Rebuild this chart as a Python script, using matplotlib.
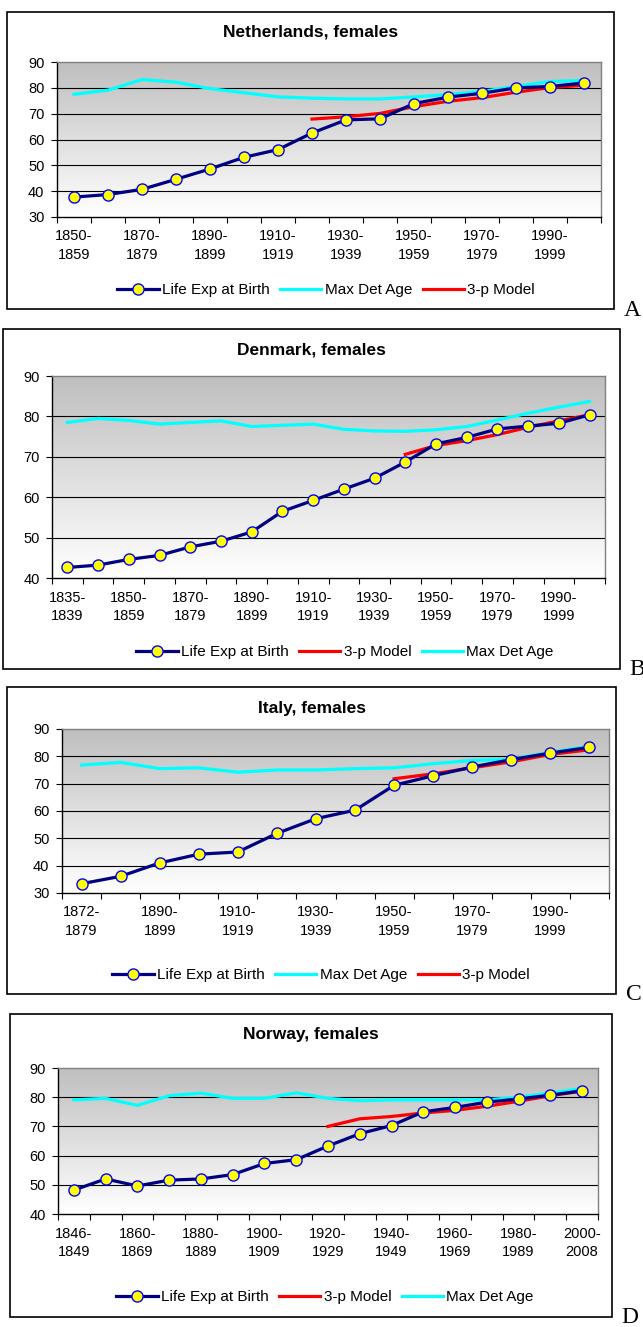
import numpy as np
import matplotlib.pyplot as plt
from matplotlib.patches import Rectangle
from matplotlib.lines import Line2D
from matplotlib.colors import LinearSegmentedColormap

plt.rcParams["font.family"] = ["Liberation Sans", "DejaVu Sans"]

W, H = 643, 1327

# --- data ---
nl_labels = ["1850-1859", "1860-1869", "1870-1879", "1880-1889", "1890-1899", "1900-1909",
             "1910-1919", "1920-1929", "1930-1939", "1940-1949", "1950-1959", "1960-1969",
             "1970-1979", "1980-1989", "1990-1999", "2000-2008"]
nl_life = [37.7, 38.7, 40.7, 44.6, 48.6, 53.1, 56.1, 62.5, 67.6, 68.0, 73.9, 76.4, 77.9, 80.0, 80.5, 81.9]
nl_maxdet = [77.5, 79.1, 83.2, 82.2, 79.7, 78.1, 76.5, 76.0, 75.7, 75.7, 76.5, 77.4, 78.6, 80.6, 82.4, 82.9]
nl_model = [None, None, None, None, None, None, None, 67.9, 68.8, 70.1, 72.7, 74.8, 76.2, 78.3, 80.1, 81.0]

dk_labels = ["1835-1839", "1840-1849", "1850-1859", "1860-1869", "1870-1879", "1880-1889",
             "1890-1899", "1900-1909", "1910-1919", "1920-1929", "1930-1939", "1940-1949",
             "1950-1959", "1960-1969", "1970-1979", "1980-1989", "1990-1999", "2000-2005"]
dk_life = [42.6, 43.2, 44.6, 45.6, 47.7, 49.1, 51.4, 56.5, 59.2, 62.0, 64.7, 68.7,
           73.2, 74.8, 76.9, 77.6, 78.3, 80.4]
dk_maxdet = [78.5, 79.5, 79.0, 78.1, 78.5, 78.9, 77.5, 77.8, 78.1, 76.8, 76.4, 76.3,
             76.7, 77.5, 79.1, 80.8, 82.3, 83.7]
dk_model = [None] * 11 + [70.6, 72.8, 74.0, 75.5, 77.3, 78.9, 80.4]

it_labels = ["1872-1879", "1880-1889", "1890-1899", "1900-1909", "1910-1919", "1920-1929",
             "1930-1939", "1940-1949", "1950-1959", "1960-1969", "1970-1979", "1980-1989",
             "1990-1999", "2000-2004"]
it_life = [33.4, 36.1, 41.0, 44.2, 45.0, 51.8, 57.2, 60.3, 69.4, 72.9, 76.1, 78.8, 81.2, 83.3]
it_maxdet = [76.8, 77.8, 75.5, 75.8, 74.2, 75.0, 75.0, 75.5, 75.8, 77.3, 78.5, 79.0, 81.5, 83.7]
it_model = [None] * 8 + [71.8, 73.6, 75.8, 78.0, 80.7, 82.4]

no_labels = ["1846-1849", "1850-1859", "1860-1869", "1870-1879", "1880-1889", "1890-1899",
             "1900-1909", "1910-1919", "1920-1929", "1930-1939", "1940-1949", "1950-1959",
             "1960-1969", "1970-1979", "1980-1989", "1990-1999", "2000-2008"]
no_life = [48.2, 52.0, 49.6, 51.6, 52.0, 53.5, 57.3, 58.6, 63.3, 67.5, 70.3, 75.0,
           76.5, 78.3, 79.4, 80.7, 82.2]
no_maxdet = [79.1, 79.6, 77.2, 80.5, 81.4, 79.6, 79.6, 81.5, 79.6, 78.8, 79.1, 79.1,
             79.1, 79.1, 80.0, 81.4, 83.0]
no_model = [None] * 8 + [70.0, 72.6, 73.4, 74.6, 75.5, 76.9, 78.6, 80.5, 82.1]

NAVY = "#000080"
CYAN = "#00FFFF"
RED = "#FF0000"
grad = LinearSegmentedColormap.from_list("bg", ["#FFFFFF", "#BFBFBF"])

fig = plt.figure(figsize=(W / 100, H / 100), dpi=100)


def px_axes(x0, y0, x1, y1):
    return fig.add_axes([x0 / W, 1 - y1 / H, (x1 - x0) / W, (y1 - y0) / H])


def panel(title, labels, life, maxdet, model, ymin, plot_box, outer_box, title_y,
          legend_y, legend_x, order, letter, letter_xy):
    bx0, by0, bx1, by1 = outer_box
    fig.patches.append(Rectangle((bx0 / W, 1 - by1 / H), (bx1 - bx0) / W, (by1 - by0) / H,
                                 transform=fig.transFigure, fill=False, ec="black", lw=1.2))
    fig.text((bx0 + bx1) / 2 / W, 1 - title_y / H, title, ha="center", va="center",
             fontsize=12.5, fontweight="bold")
    fig.text(letter_xy[0] / W, 1 - letter_xy[1] / H, letter, ha="left", va="baseline",
             fontsize=17, family="Liberation Serif")

    ax = px_axes(*plot_box)
    n = len(labels)
    x = np.arange(n)
    ax.set_xlim(-0.5, n - 0.5)
    ax.set_ylim(ymin, 90)
    ax.imshow(np.linspace(0, 1, 100).reshape(-1, 1), cmap=grad, aspect="auto",
              extent=(-0.5, n - 0.5, ymin, 90), origin="lower", zorder=0)

    yt = np.arange(ymin, 91, 10)
    for v in yt[1:-1]:
        ax.axhline(v, color="black", lw=0.8, zorder=1)
    ax.set_yticks(yt)
    ax.tick_params(axis="y", length=4, width=0.8, labelsize=10.5, pad=5, colors="black")

    ax.set_xticks(x[::2])
    ax.set_xticklabels([lab.replace("-", "-\n") for lab in labels[::2]], fontsize=10.5,
                       linespacing=1.45)
    ax.set_xticks(np.arange(-0.5, n), minor=True)
    ax.tick_params(axis="x", which="major", length=0, pad=9)
    ax.tick_params(axis="x", which="minor", length=4, width=0.8)
    for s in ax.spines.values():
        s.set_color("#808080")
        s.set_linewidth(1.0)
    ax.spines["left"].set_color("black")
    ax.spines["bottom"].set_color("black")

    mdl = np.array([np.nan if v is None else v for v in model], dtype=float)
    ax.plot(x, maxdet, color=CYAN, lw=2.3, zorder=3)
    ax.plot(x, mdl, color=RED, lw=2.3, zorder=4)
    ax.plot(x, life, color=NAVY, lw=2.3, marker="o", ms=8, mfc="#FFFF00",
            mec="#0000FF", mew=1.0, zorder=5)

    handles = {
        "life": Line2D([], [], color=NAVY, lw=2.3, marker="o", ms=8, mfc="#FFFF00",
                       mec="#0000FF", mew=1.0, label="Life Exp at Birth"),
        "max": Line2D([], [], color=CYAN, lw=2.3, label="Max Det Age"),
        "model": Line2D([], [], color=RED, lw=2.3, label="3-p Model"),
    }
    fig.legend(handles=[handles[k] for k in order], loc="center",
               bbox_to_anchor=(legend_x / W, 1 - legend_y / H), ncol=3, frameon=False,
               fontsize=11, handlelength=2.7, handletextpad=0.2, columnspacing=0.7,
               borderpad=0, markerscale=1.0)


panel("Netherlands, females", nl_labels, nl_life, nl_maxdet, nl_model, 30,
      (57, 62, 601, 217), (7, 12, 614, 309), 32, 290, 326, ["life", "max", "model"],
      "A", (624, 316))
panel("Denmark, females", dk_labels, dk_life, dk_maxdet, dk_model, 40,
      (52, 376, 605, 578), (3, 329, 620, 669), 350, 652, 345, ["life", "model", "max"],
      "B", (629, 675))
panel("Italy, females", it_labels, it_life, it_maxdet, it_model, 30,
      (62, 729, 609, 893), (7, 687, 616, 994), 708, 975, 321, ["life", "max", "model"],
      "C", (626, 1000))
panel("Norway, females", no_labels, no_life, no_maxdet, no_model, 40,
      (58, 1068, 598, 1214), (10, 1014, 612, 1317), 1034, 1297, 325, ["life", "model", "max"],
      "D", (621, 1323))

fig.savefig("out.png", dpi=100, facecolor="white")
